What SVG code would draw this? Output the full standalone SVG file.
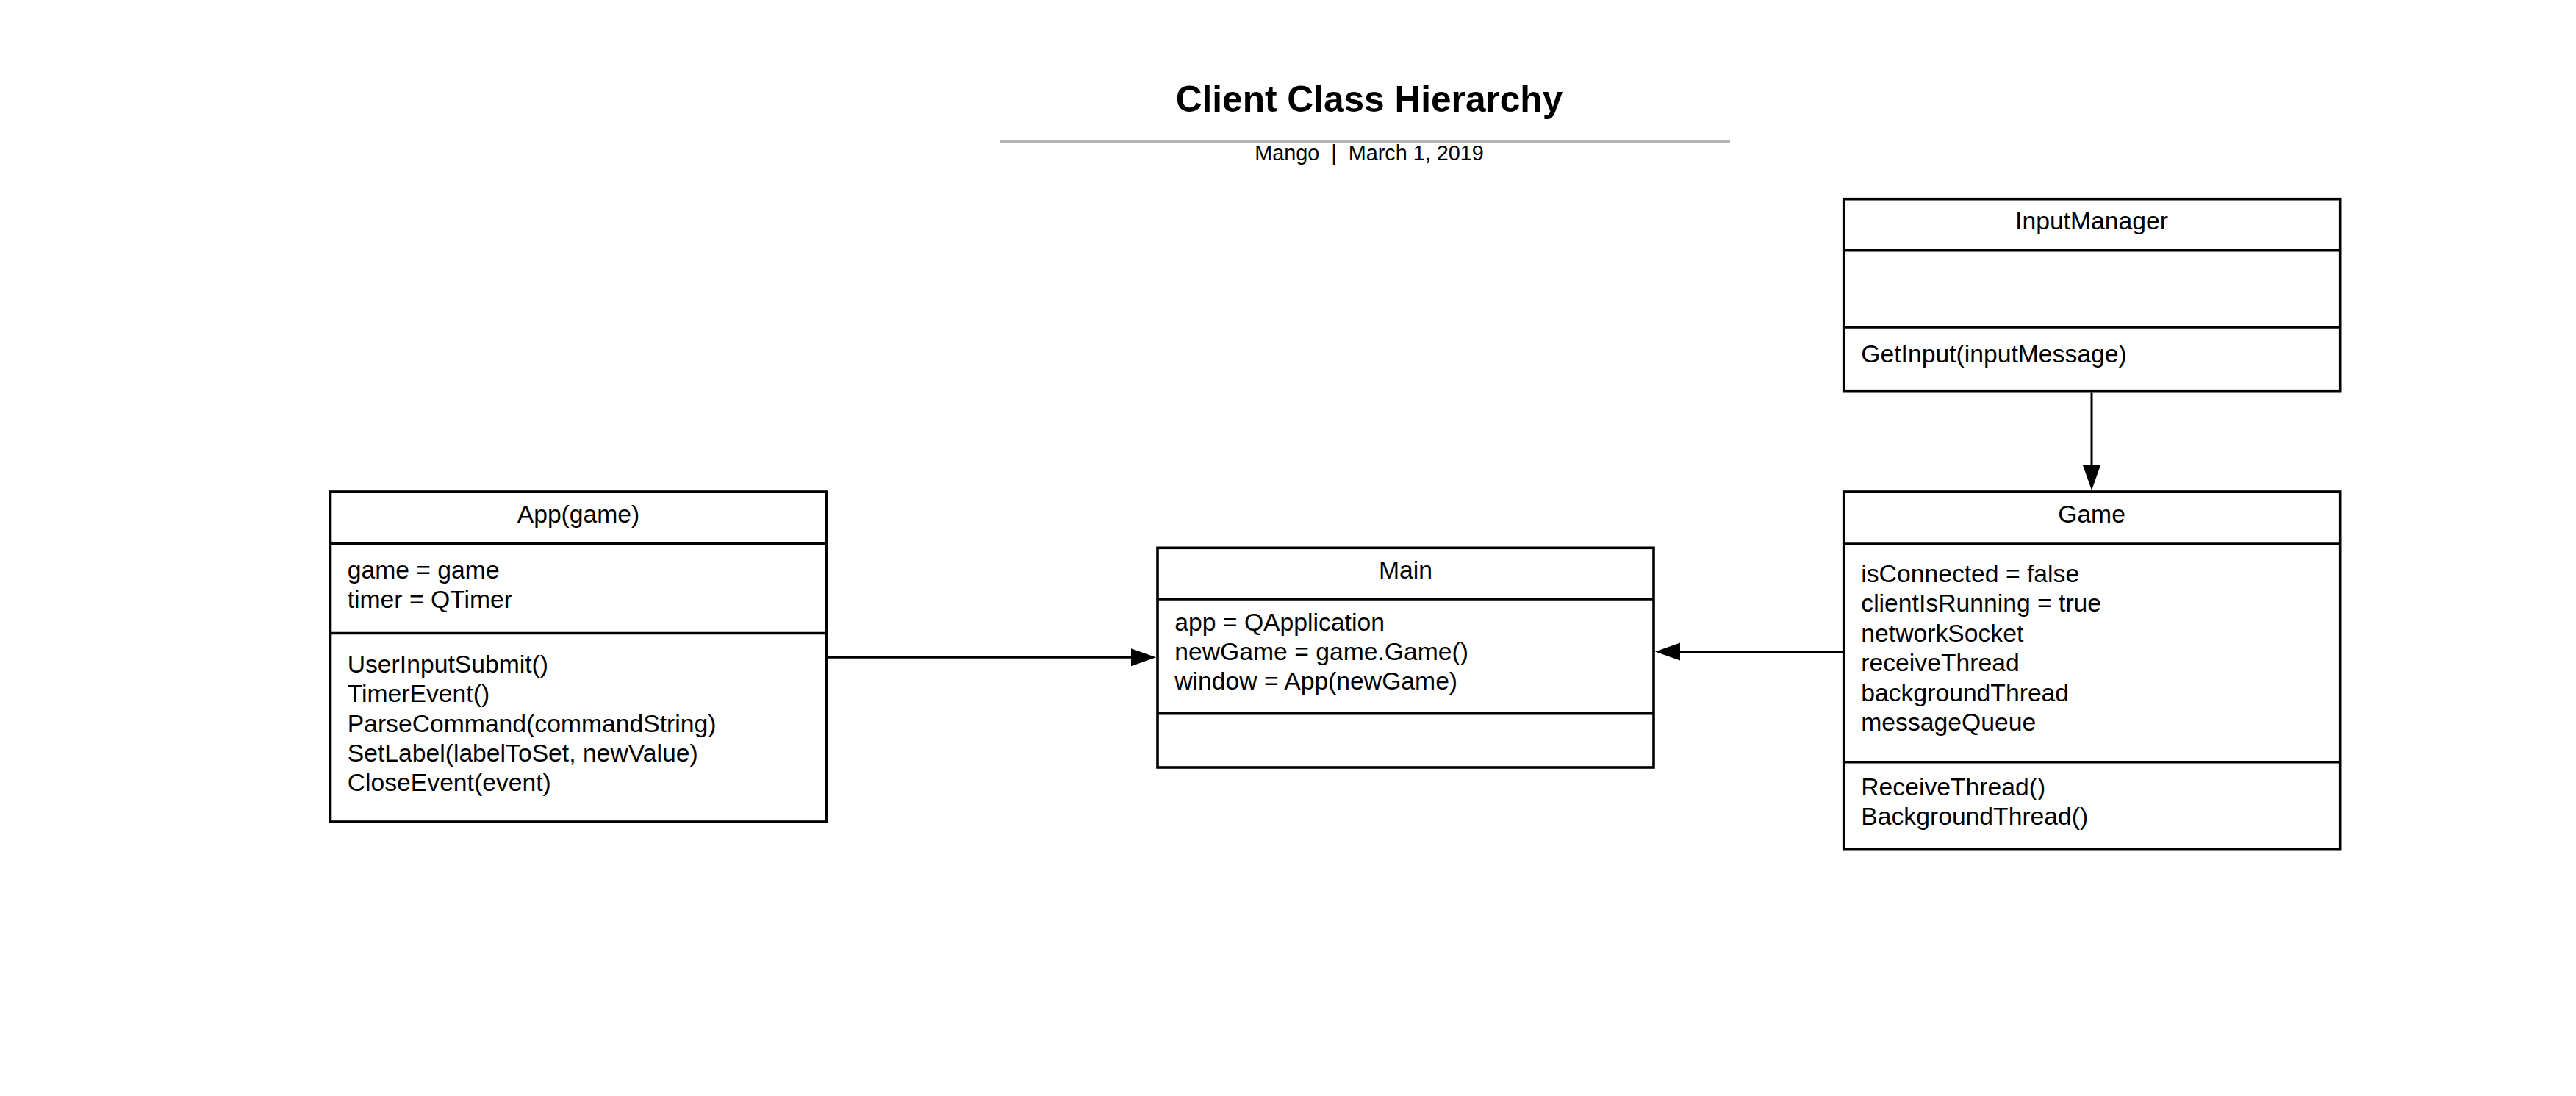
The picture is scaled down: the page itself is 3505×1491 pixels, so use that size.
<svg xmlns="http://www.w3.org/2000/svg" width="3505" height="1491" viewBox="0 0 3505 1491">
<style>
  .box { fill: #ffffff; stroke: #000000; stroke-width: 3.6; }
  .div { stroke: #000000; stroke-width: 3.6; }
  .t { font-family: "Liberation Sans", Arial, sans-serif; font-size: 33.7px; fill: #000000; }
  .c { text-anchor: middle; }
  .conn { fill: none; stroke: #000000; stroke-width: 3; }
  .title { font-family: "Liberation Sans", Arial, sans-serif; font-size: 49.6px; font-weight: bold; fill: #000000; text-anchor: middle; }
  .sub { font-family: "Liberation Sans", Arial, sans-serif; font-size: 28.8px; fill: #000000; text-anchor: middle; }
</style>
<defs>
  <marker id="arrow" markerUnits="userSpaceOnUse" markerWidth="36" markerHeight="26" refX="0" refY="12" orient="auto" overflow="visible">
    <path d="M0,0 L34,12 L0,24 Z" fill="#000000"/>
  </marker>
</defs>
<rect x="0" y="0" width="3505" height="1491" fill="#ffffff"/>

<g id="header">
  <text class="title" x="1863" y="152">Client Class Hierarchy</text>
  <line x1="1361" y1="193" x2="2354" y2="193" stroke="#b3b3b3" stroke-width="4"/>
  <text class="sub" x="1863" y="217.5" xml:space="preserve">Mango  |  March 1, 2019</text>
</g>

<g id="connectors">
  <path class="conn" d="M1126,894.3 L1539,894.3" marker-end="url(#arrow)"/>
  <path class="conn" d="M2507,886.5 L2286,886.5" marker-end="url(#arrow)"/>
  <path class="conn" d="M2846,533.5 L2846,633" marker-end="url(#arrow)"/>
</g>

<g id="node-app">
  <rect class="box" x="449.5" y="669" width="675" height="449"/>
  <line class="div" x1="449.5" y1="739.5" x2="1124.5" y2="739.5"/>
  <line class="div" x1="449.5" y1="861.5" x2="1124.5" y2="861.5"/>
  <text class="t c" x="787" y="711">App(game)</text>
  <text class="t" x="472.7" y="786.7">game = game</text>
  <text class="t" x="472.7" y="826.7">timer = QTimer</text>
  <text class="t" x="472.7" y="915">UserInputSubmit()</text>
  <text class="t" x="472.7" y="955.3">TimerEvent()</text>
  <text class="t" x="472.7" y="995.6">ParseCommand(commandString)</text>
  <text class="t" x="472.7" y="1035.9">SetLabel(labelToSet, newValue)</text>
  <text class="t" x="472.7" y="1076.2">CloseEvent(event)</text>
</g>

<g id="node-main">
  <rect class="box" x="1575" y="745.3" width="675" height="298.7"/>
  <line class="div" x1="1575" y1="815" x2="2250" y2="815"/>
  <line class="div" x1="1575" y1="970.7" x2="2250" y2="970.7"/>
  <text class="t c" x="1912.5" y="786.7">Main</text>
  <text class="t" x="1598.3" y="857.7">app = QApplication</text>
  <text class="t" x="1598.3" y="897.7">newGame = game.Game()</text>
  <text class="t" x="1598.3" y="937.7">window = App(newGame)</text>
</g>

<g id="node-inputmanager">
  <rect class="box" x="2508.7" y="270.7" width="675" height="261"/>
  <line class="div" x1="2508.7" y1="340.7" x2="3183.7" y2="340.7"/>
  <line class="div" x1="2508.7" y1="445" x2="3183.7" y2="445"/>
  <text class="t c" x="2846" y="311.7">InputManager</text>
  <text class="t" x="2532.3" y="493.3">GetInput(inputMessage)</text>
</g>

<g id="node-game">
  <rect class="box" x="2508.7" y="669" width="675" height="486.7"/>
  <line class="div" x1="2508.7" y1="740" x2="3183.7" y2="740"/>
  <line class="div" x1="2508.7" y1="1036.7" x2="3183.7" y2="1036.7"/>
  <text class="t c" x="2846" y="710.5">Game</text>
  <text class="t" x="2532.3" y="791.7">isConnected = false</text>
  <text class="t" x="2532.3" y="832.2">clientIsRunning = true</text>
  <text class="t" x="2532.3" y="872.7">networkSocket</text>
  <text class="t" x="2532.3" y="913.2">receiveThread</text>
  <text class="t" x="2532.3" y="953.7">backgroundThread</text>
  <text class="t" x="2532.3" y="994.2">messageQueue</text>
  <text class="t" x="2532.3" y="1081.7">ReceiveThread()</text>
  <text class="t" x="2532.3" y="1121.7">BackgroundThread()</text>
</g>
</svg>
